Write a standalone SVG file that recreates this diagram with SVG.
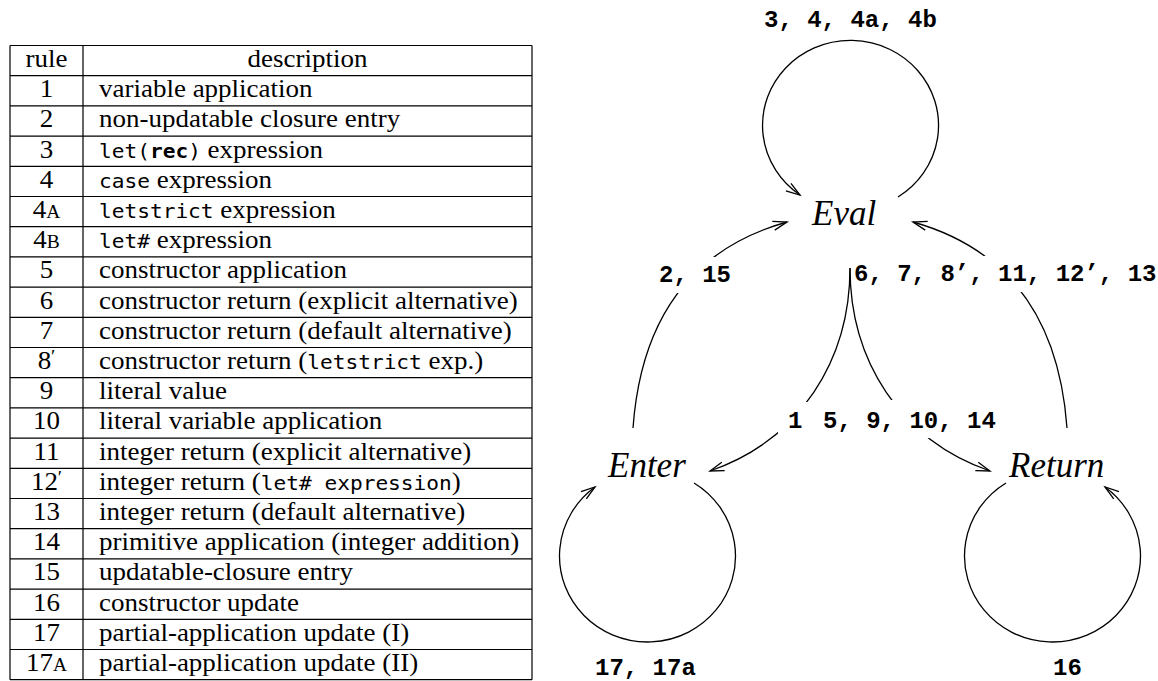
<svg xmlns="http://www.w3.org/2000/svg" width="1158" height="681" viewBox="0 0 1158 681">
  <style>
    .rule { fill: none; stroke: #000; stroke-width: 1.2; }
    .cell { font-family: "Liberation Serif", "Times New Roman", serif; font-size: 25px; fill: #000; }
    .tt { font-family: "DejaVu Sans Mono", "Liberation Mono", monospace; font-size: 19.6px; }
    .ttb { font-family: "DejaVu Sans Mono", "Liberation Mono", monospace; font-size: 19.6px; font-weight: bold; }
    .sc { font-size: 18px; }
    .edge { fill: none; stroke: #000; stroke-width: 1.3; }
    .lbl { font-family: "Liberation Mono", "Courier New", monospace; font-size: 24px; font-weight: bold; fill: #000; }
    .state { font-family: "Liberation Serif", "Times New Roman", serif; font-style: italic; font-size: 35px; fill: #000; }
    .gap { fill: #fff; }
  </style>
  <defs>
    <marker id="arrow" markerUnits="userSpaceOnUse" viewBox="-16 -7 18 14" markerWidth="18" markerHeight="14" refX="0" refY="0" orient="auto" overflow="visible">
      <path d="M-14,-4.5 L0,0 L-14,4.5" fill="none" stroke="#000" stroke-width="1.3"/>
    </marker>
  </defs>
  <rect width="1158" height="681" fill="#fff"/>

  <!-- rule table -->
  <g id="rule-table">
    <path class="rule" d="M10,45.5 V679.7 M83,45.5 V679.7 M532,45.5 V679.7
      M10,45.5 H532 M10,75.7 H532 M10,105.9 H532 M10,136.1 H532 M10,166.3 H532 M10,196.5 H532
      M10,226.7 H532 M10,256.9 H532 M10,287.1 H532 M10,317.3 H532 M10,347.5 H532 M10,377.7 H532
      M10,407.9 H532 M10,438.1 H532 M10,468.3 H532 M10,498.5 H532 M10,528.7 H532 M10,558.9 H532
      M10,589.1 H532 M10,619.3 H532 M10,649.5 H532 M10,679.7 H532"/>

    <!-- rule numbers -->
    <g class="cell" text-anchor="middle" transform="translate(46.5,0) scale(1.08,1)">
      <text x="0" y="67">rule</text>
      <text x="0" y="97.2">1</text>
      <text x="0" y="127.4">2</text>
      <text x="0" y="157.6">3</text>
      <text x="0" y="187.8">4</text>
      <text x="0" y="218">4<tspan class="sc">A</tspan></text>
      <text x="0" y="248.2">4<tspan class="sc">B</tspan></text>
      <text x="0" y="278.4">5</text>
      <text x="0" y="308.6">6</text>
      <text x="0" y="338.8">7</text>
      <text x="0" y="369">8<tspan dy="-6" font-size="18px">′</tspan></text>
      <text x="0" y="399.2">9</text>
      <text x="0" y="429.4">10</text>
      <text x="0" y="459.6">11</text>
      <text x="0" y="489.8">12<tspan dy="-6" font-size="18px">′</tspan></text>
      <text x="0" y="520">13</text>
      <text x="0" y="550.2">14</text>
      <text x="0" y="580.4">15</text>
      <text x="0" y="610.6">16</text>
      <text x="0" y="640.8">17</text>
      <text x="0" y="671">17<tspan class="sc">A</tspan></text>
    </g>

    <!-- descriptions -->
    <g class="cell" transform="translate(307.5,0) scale(1.08,1)">
      <text x="0" y="67" text-anchor="middle">description</text>
    </g>
    <g class="cell" transform="translate(99,0) scale(1.08,1)">
      <text x="0" y="97.2">variable application</text>
      <text x="0" y="127.4">non-updatable closure entry</text>
      <text x="0" y="157.6"><tspan class="tt">let(</tspan><tspan class="ttb">rec</tspan><tspan class="tt">)</tspan> expression</text>
      <text x="0" y="187.8"><tspan class="tt">case</tspan> expression</text>
      <text x="0" y="218"><tspan class="tt">letstrict</tspan> expression</text>
      <text x="0" y="248.2"><tspan class="tt">let#</tspan> expression</text>
      <text x="0" y="278.4">constructor application</text>
      <text x="0" y="308.6">constructor return (explicit alternative)</text>
      <text x="0" y="338.8">constructor return (default alternative)</text>
      <text x="0" y="369">constructor return (<tspan class="tt">letstrict</tspan> exp.)</text>
      <text x="0" y="399.2">literal value</text>
      <text x="0" y="429.4">literal variable application</text>
      <text x="0" y="459.6">integer return (explicit alternative)</text>
      <text x="0" y="489.8">integer return (<tspan class="tt">let# expression</tspan>)</text>
      <text x="0" y="520">integer return (default alternative)</text>
      <text x="0" y="550.2">primitive application (integer addition)</text>
      <text x="0" y="580.4">updatable-closure entry</text>
      <text x="0" y="610.6">constructor update</text>
      <text x="0" y="640.8">partial-application update (I)</text>
      <text x="0" y="671">partial-application update (II)</text>
    </g>
  </g>

  <!-- transitions -->
  <g id="connectors">
    <path class="edge" d="M898,197 A88,85 0 1 0 800,195" marker-end="url(#arrow)"/>
    <path class="edge" d="M694,483 A88,86 0 1 1 595,487" marker-end="url(#arrow)"/>
    <path class="edge" d="M1006,483 A88,86 0 1 0 1105,487" marker-end="url(#arrow)"/>
    <path class="edge" d="M633,428 Q645,262 787,222" marker-end="url(#arrow)"/>
    <path class="edge" d="M1067,428 Q1055,262 913,222" marker-end="url(#arrow)"/>
    <path class="edge" d="M850,268 C850,360 800,440 710,471" marker-end="url(#arrow)"/>
    <path class="edge" d="M850,268 C850,360 900,440 990,471" marker-end="url(#arrow)"/>
  </g>

  <!-- transition labels, each clearing the line it sits on -->
  <g id="edge-labels">
    <text class="lbl" x="764" y="27">3, 4, 4a, 4b</text>
    <rect class="gap" x="656" y="257" width="74" height="36"/>
    <text class="lbl" x="659" y="282">2, 15</text>
    <rect class="gap" x="855" y="256" width="302" height="36"/>
    <text class="lbl" x="854" y="281">6, 7, 8’, 11, 12’, 13</text>
    <rect class="gap" x="778" y="402" width="38" height="36"/>
    <text class="lbl" x="788" y="428">1</text>
    <rect class="gap" x="820" y="400" width="180" height="38"/>
    <text class="lbl" x="823" y="428">5, 9, 10, 14</text>
    <text class="lbl" x="595" y="675">17, 17a</text>
    <text class="lbl" x="1053" y="675">16</text>
  </g>

  <!-- machine states -->
  <g id="node-eval"><text class="state" x="812" y="225">Eval</text></g>
  <g id="node-enter"><text class="state" x="608" y="477">Enter</text></g>
  <g id="node-return"><text class="state" x="1009" y="477">Return</text></g>
</svg>
